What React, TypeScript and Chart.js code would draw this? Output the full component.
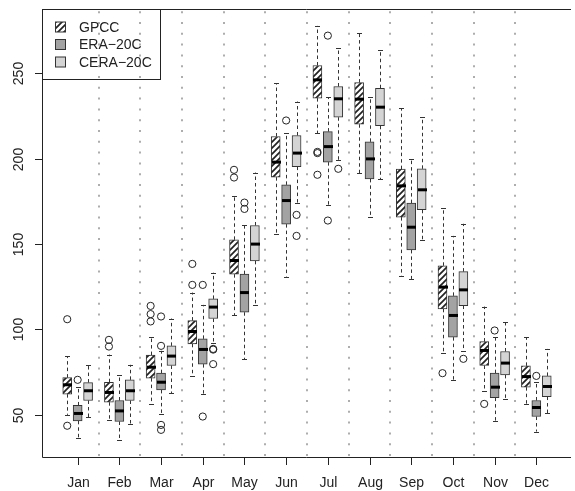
import React, { useEffect, useRef } from "react";
import { Chart, registerables } from "chart.js";
Chart.register(...registerables);

const months = ["Jan", "Feb", "Mar", "Apr", "May", "Jun", "Jul", "Aug", "Sep", "Oct", "Nov", "Dec"];
const yTicks = [50, 100, 150, 200, 250];
const seriesNames = ["GPCC", "ERA\u221220C", "CERA\u221220C"];

const gpccLow = [50.0, 47.1, 56.4, 72.8, 108.2, 155.8, 215.0, 191.5, 131.4, 86.5, 64.2, 56.4];
const gpccQ1 = [62.1, 57.4, 71.5, 91.6, 132.4, 189.2, 235.5, 220.2, 165.8, 112.1, 78.9, 66.2];
const gpccMed = [67.6, 63.1, 77.9, 98.8, 140.4, 198.0, 246.2, 234.9, 184.1, 124.8, 87.7, 72.4];
const gpccQ3 = [71.8, 69.1, 85.0, 105.2, 152.5, 213.0, 254.6, 244.6, 193.9, 137.3, 92.9, 78.7];
const gpccHigh = [84.4, 85.3, 95.7, 121.6, 178.3, 244.3, 277.8, 273.9, 229.6, 171.0, 113.4, 95.5];
const gpccOut = [[106.0, 43.6], [93.9, 90.0], [113.8, 109.0, 104.7], [138.4, 126.1], [193.5, 189.0], [], [203.3, 204.0, 190.6], [], [], [74.4], [56.4], []];

const eraLow = [36.7, 35.0, 50.6, 62.3, 82.6, 131.0, 173.0, 165.8, 129.6, 70.5, 46.5, 40.2];
const eraQ1 = [46.5, 46.1, 64.6, 79.7, 110.1, 161.7, 198.0, 188.2, 146.6, 95.5, 60.1, 49.0];
const eraMed = [50.8, 52.3, 69.1, 88.3, 121.6, 175.5, 207.1, 199.9, 159.9, 108.2, 66.2, 54.3];
const eraQ3 = [55.5, 58.4, 74.4, 94.5, 132.4, 184.7, 215.9, 209.9, 174.0, 119.7, 74.4, 58.4];
const eraHigh = [66.2, 73.4, 87.5, 114.4, 161.3, 215.0, 236.1, 236.1, 199.9, 154.8, 95.5, 69.5];
const eraOut = [[70.5], [], [90.4, 107.6, 44.1, 41.2], [126.1, 49.0], [174.3, 170.6], [222.4], [272.1, 163.8], [], [], [], [99.4], [72.8]];

const ceraLow = [48.6, 44.7, 62.7, 92.0, 114.4, 173.9, 199.3, 188.0, 152.5, 87.1, 59.4, 51.0];
const ceraQ1 = [58.4, 58.4, 78.9, 106.4, 140.2, 195.4, 224.3, 219.3, 170.1, 114.0, 73.4, 60.7];
const ceraMed = [64.1, 64.1, 84.4, 113.1, 150.0, 203.3, 235.1, 230.2, 181.8, 123.2, 80.3, 66.6];
const ceraQ3 = [68.9, 70.5, 90.4, 117.9, 160.9, 213.6, 242.3, 241.3, 194.1, 133.9, 87.1, 72.8];
const ceraHigh = [79.3, 79.3, 106.4, 133.3, 191.9, 233.5, 265.1, 263.4, 224.3, 161.9, 104.3, 88.6];
const ceraOut = [[], [], [], [88.6, 88.2, 79.7], [], [167.1, 154.8], [194.1], [], [], [82.8], [], []];

const FONT = '14px "Liberation Sans", Arial, sans-serif';

export default function App() {
  const ref = useRef<HTMLCanvasElement>(null);
  useEffect(() => {
    const canvas = ref.current!;
    const ctx = canvas.getContext("2d")!;
    const pc = document.createElement("canvas");
    pc.width = 6;
    pc.height = 6;
    const p = pc.getContext("2d")!;
    p.fillStyle = "#ffffff";
    p.fillRect(0, 0, 6, 6);
    p.strokeStyle = "#222222";
    p.lineWidth = 1.7;
    p.beginPath();
    p.moveTo(0, 6); p.lineTo(6, 0);
    p.moveTo(-1, 1); p.lineTo(1, -1);
    p.moveTo(5, 7); p.lineTo(7, 5);
    p.stroke();
    const hatch = ctx.createPattern(pc, "repeat")!;

    const series = [
      { name: seriesNames[0], low: gpccLow, q1: gpccQ1, med: gpccMed, q3: gpccQ3, high: gpccHigh, out: gpccOut, fill: hatch as any },
      { name: seriesNames[1], low: eraLow, q1: eraQ1, med: eraMed, q3: eraQ3, high: eraHigh, out: eraOut, fill: "#a3a3a3" },
      { name: seriesNames[2], low: ceraLow, q1: ceraQ1, med: ceraMed, q3: ceraQ3, high: ceraHigh, out: ceraOut, fill: "#d4d4d4" },
    ];
    const pos = (i: number, k: number) => 4 * i + k + 1;

    const datasets: any[] = series.map((s, k) => ({
      type: "bar",
      label: s.name,
      data: months.map((_, i) => ({ x: pos(i, k), y: [s.q1[i], s.q3[i]] })),
      backgroundColor: s.fill,
      borderColor: "#333333",
      borderWidth: 1,
      borderSkipped: false,
      barThickness: 9,
      grouped: false,
    }));
    const outData: { x: number; y: number }[] = [];
    series.forEach((s, k) => s.out.forEach((arr, i) => arr.forEach((v) => outData.push({ x: pos(i, k), y: v }))));
    datasets.push({
      type: "scatter",
      label: "outliers",
      data: outData,
      pointStyle: "circle",
      pointRadius: 3.6,
      borderColor: "#222222",
      backgroundColor: "rgba(0,0,0,0)",
      borderWidth: 1,
    });

    const plugin = {
      id: "boxdeco",
      beforeDatasetsDraw(chart: any) {
        const c = chart.ctx as CanvasRenderingContext2D;
        const xs = chart.scales.x;
        const ys = chart.scales.y;
        const a = chart.chartArea;
        c.save();
        c.strokeStyle = "#adadad";
        c.lineWidth = 2;
        c.setLineDash([2, 8.8]);
        for (let i = 0; i < months.length - 1; i++) {
          const x = Math.round(xs.getPixelForValue(4 * i + 4));
          c.beginPath();
          c.moveTo(x, a.bottom - 1);
          c.lineTo(x, a.top + 1);
          c.stroke();
        }
        c.strokeStyle = "#333333";
        c.lineWidth = 1;
        c.setLineDash([3.5, 3]);
        series.forEach((s, k) => {
          months.forEach((_, i) => {
            const x = Math.round(xs.getPixelForValue(pos(i, k))) + 0.5;
            c.beginPath();
            c.moveTo(x, ys.getPixelForValue(s.q3[i]));
            c.lineTo(x, ys.getPixelForValue(s.high[i]));
            c.moveTo(x, ys.getPixelForValue(s.q1[i]));
            c.lineTo(x, ys.getPixelForValue(s.low[i]));
            c.stroke();
          });
        });
        c.restore();
      },
      afterDatasetsDraw(chart: any) {
        const c = chart.ctx as CanvasRenderingContext2D;
        const xs = chart.scales.x;
        const ys = chart.scales.y;
        const a = chart.chartArea;
        c.save();
        c.setLineDash([]);
        series.forEach((s, k) => {
          months.forEach((_, i) => {
            const x = Math.round(xs.getPixelForValue(pos(i, k))) + 0.5;
            c.strokeStyle = "#333333";
            c.lineWidth = 1;
            c.beginPath();
            for (const v of [s.high[i], s.low[i]]) {
              const y = Math.round(ys.getPixelForValue(v)) + 0.5;
              c.moveTo(x - 2.5, y);
              c.lineTo(x + 2.5, y);
            }
            c.stroke();
            c.strokeStyle = "#000000";
            c.lineWidth = 3;
            const ym = ys.getPixelForValue(s.med[i]);
            c.beginPath();
            c.moveTo(x - 4.5, ym);
            c.lineTo(x + 4.5, ym);
            c.stroke();
          });
        });
        c.strokeStyle = "#222222";
        c.lineWidth = 1;
        c.beginPath();
        c.moveTo(a.right + 1, a.top + 0.5);
        c.lineTo(a.left + 0.5, a.top + 0.5);
        c.lineTo(a.left + 0.5, a.bottom + 0.5);
        c.lineTo(a.right + 1, a.bottom + 0.5);
        c.stroke();
        c.fillStyle = "#222222";
        c.font = FONT;
        yTicks.forEach((t) => {
          const y = Math.round(ys.getPixelForValue(t)) + 0.5;
          c.beginPath();
          c.moveTo(a.left + 0.5, y);
          c.lineTo(a.left - 7, y);
          c.stroke();
          c.save();
          c.translate(19, y);
          c.rotate(-Math.PI / 2);
          c.textAlign = "center";
          c.textBaseline = "middle";
          c.fillText(String(t), 0, 0);
          c.restore();
        });
        months.forEach((m, i) => {
          const x = Math.round(xs.getPixelForValue(pos(i, 1))) + 0.5;
          c.beginPath();
          c.moveTo(x, a.bottom + 0.5);
          c.lineTo(x, a.bottom + 8);
          c.stroke();
          c.textAlign = "center";
          c.textBaseline = "middle";
          c.fillText(m, x, a.bottom + 26.5);
        });
        c.strokeStyle = "#222222";
        c.lineWidth = 1;
        c.strokeRect(a.left + 0.5, a.top + 0.5, 118, 70);
        const rows = [27, 44.5, 62];
        series.forEach((s, k) => {
          const cy = rows[k];
          c.fillStyle = s.fill;
          c.fillRect(55.5, cy - 5, 10, 10);
          c.strokeStyle = "#333333";
          c.strokeRect(55.5, cy - 5, 10, 10);
          c.fillStyle = "#222222";
          c.textAlign = "left";
          c.textBaseline = "middle";
          c.fillText(s.name, 79, cy + 1);
        });
        c.restore();
      },
    };

    const chart = new Chart(ctx, {
      type: "bar",
      data: { datasets },
      options: {
        animation: false,
        responsive: false,
        maintainAspectRatio: false,
        layout: { padding: { left: 42, right: 0, top: 9, bottom: 34 } },
        scales: {
          x: { type: "linear", min: -1.42, max: 49.23, offset: false, display: false },
          y: { type: "linear", min: 25.3, max: 287.7, display: false },
        },
        plugins: { legend: { display: false }, tooltip: { enabled: false } },
      },
      plugins: [plugin],
    } as any);
    return () => chart.destroy();
  }, []);
  return (
    <div style={{ position: "fixed", left: 0, top: 0 }}>
      <canvas ref={ref} width={575} height={491} style={{ display: "block", width: 575, height: 491 }} />
    </div>
  );
}
